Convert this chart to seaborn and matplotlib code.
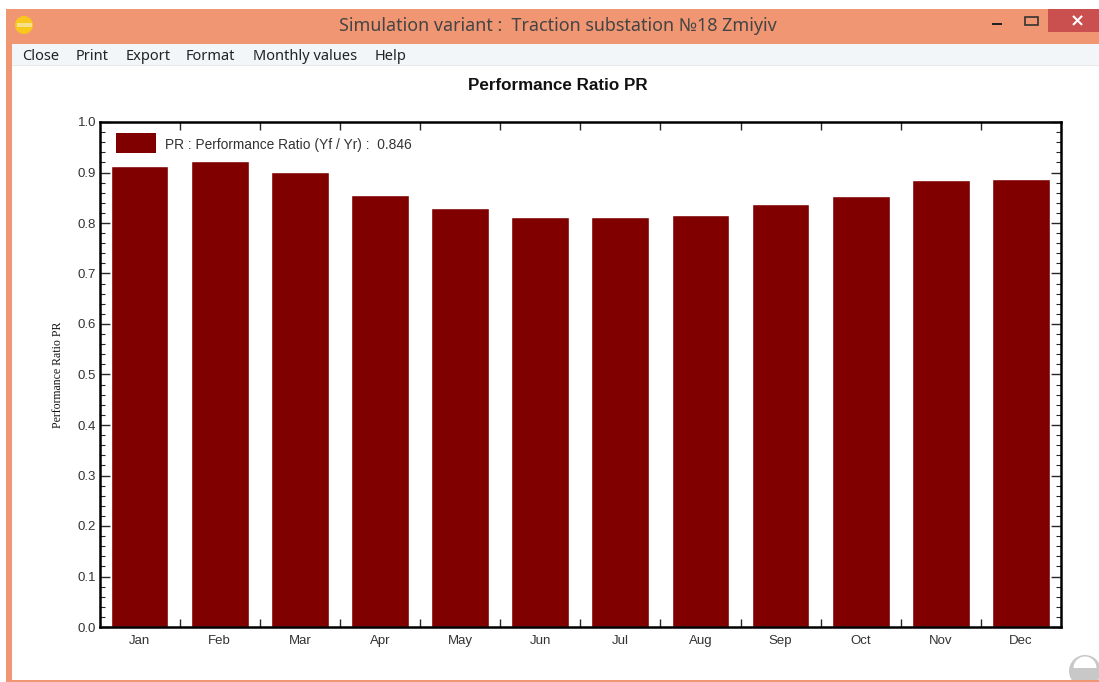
import matplotlib
matplotlib.use('Agg')
import matplotlib.pyplot as plt
from matplotlib.patches import Rectangle, Circle, Patch, Wedge
from matplotlib.ticker import MultipleLocator
from matplotlib.transforms import Affine2D
import pandas as pd
import seaborn as sns

W, H = 1099, 682

months = ['Jan', 'Feb', 'Mar', 'Apr', 'May', 'Jun', 'Jul', 'Aug', 'Sep', 'Oct', 'Nov', 'Dec']
pr_values = [0.913, 0.922, 0.901, 0.855, 0.830, 0.812, 0.812, 0.816, 0.838, 0.853, 0.885, 0.887]
menu_labels = ['Close', 'Print', 'Export', 'Format', 'Monthly values', 'Help']
menu_x = [22, 76, 126, 186, 253, 375]

BAR = '#800000'
SALMON = '#F09673'

# Picture pixels, y going down, for the window decorations
PX = Affine2D().scale(1, -1).translate(0, H)


def fx(x):
    return x / W


def fy(y):
    return 1 - y / H


def box(fig, x0, y0, x1, y1, color, z=0):
    """Rectangle given in picture pixels."""
    fig.add_artist(Rectangle((x0, y0), x1 - x0, y1 - y0, transform=PX, color=color, lw=0, zorder=z))


def draw_window(fig):
    # Title bar, borders and menu strip
    box(fig, 6, 9, W, 44, SALMON)
    box(fig, 6, 44, 12, 682, SALMON)
    box(fig, 12, 44, W, 65, '#F3F6F9')
    box(fig, 12, 65, W, 66, '#E6E8EA')
    box(fig, 1048, 9, W, 32, '#C9504F')

    # Window icon
    fig.add_artist(Circle((24, 25), 9, transform=PX, color='#F8C81E', lw=0, zorder=1))
    box(fig, 17, 23, 32, 27, '#F6E08A', 2)

    # Window buttons
    box(fig, 992, 23, 1002, 25, '#222222')
    fig.add_artist(Rectangle((1025, 17), 13, 8, transform=PX, fill=False, ec='#333333', lw=1.2))
    fig.text(fx(1077), fy(21), '\u00d7', color='white', ha='center', va='center',
             fontsize=13, fontweight='bold', family='DejaVu Sans')

    fig.text(fx(557.5), fy(26), 'Simulation variant :  Traction substation \u211618 Zmiyiv',
             ha='center', va='center', fontsize=12.9, color='#444444', family='Noto Sans')
    for label, x in zip(menu_labels, menu_x):
        fig.text(fx(x), fy(56), label, ha='left', va='center', fontsize=10.5,
                 color='#222222', family='Noto Sans')

    # Busy indicator in the lower right corner
    fig.add_artist(Circle((1085, 671), 16, transform=PX, color='#C8C8C8', lw=0, zorder=2))
    fig.add_artist(Wedge((1085, 668), 11.5, 180, 360, transform=PX, color='white', lw=0, zorder=3))
    box(fig, 6, 680, W, 682, SALMON, 4)


def plot_performance_ratio(fig):
    ax = fig.add_axes([fx(99.5), fy(627), (1061 - 99.5) / W, (627 - 122) / H])
    ax.patch.set_alpha(0)
    df = pd.DataFrame({'month': months, 'pr': pr_values})

    sns.barplot(data=df, x='month', y='pr', color=BAR, saturation=1, width=0.72, ax=ax, zorder=3)

    ax.set_xlim(-0.5, 11.5)
    ax.set_ylim(0, 1)
    ax.set_xlabel('')
    ax.set_ylabel('Performance Ratio PR', family='Liberation Serif', fontsize=8.5,
                  color='#111111', labelpad=0)
    ax.yaxis.set_label_coords((64 - 99.5) / (1061 - 99.5), 0.50)

    ax.yaxis.set_major_locator(MultipleLocator(0.1))
    ax.yaxis.set_minor_locator(MultipleLocator(0.02))
    ax.tick_params(axis='y', which='major', direction='in', length=7, width=1, left=True,
                   right=True, labelsize=9.5, labelcolor='#333333', pad=2.5)
    ax.tick_params(axis='y', which='minor', direction='in', length=3.6, width=0.8, left=True, right=True)
    for label in ax.get_yticklabels():
        label.set_family('Liberation Sans')

    # Month names centred under the bars, tick marks between them
    ax.set_xticks([i + 0.5 for i in range(11)])
    ax.set_xticklabels([])
    ax.set_xticks(range(12), minor=True)
    ax.set_xticklabels(months, minor=True, family='Liberation Sans', fontsize=9.5, color='#333333')
    ax.tick_params(axis='x', which='major', direction='in', length=5.8, width=1, top=True, bottom=True)
    ax.tick_params(axis='x', which='minor', length=0, pad=6)

    for spine in ax.spines.values():
        spine.set_visible(True)
        spine.set_linewidth(1.8)
        spine.set_color('black')
        spine.set_zorder(5)

    legend = ax.legend(handles=[Patch(color=BAR, lw=0, label='PR : Performance Ratio (Yf / Yr) :  0.846')],
                       loc='upper left', bbox_to_anchor=(0.0172, 0.9785), borderaxespad=0, borderpad=0,
                       frameon=False, handlelength=2.88, handleheight=1.9, handletextpad=0.65,
                       prop={'family': 'Liberation Sans', 'size': 9.9}, labelcolor='#333333')
    legend.get_texts()[0].set_y(-2)

    fig.text(fx(558), fy(85), 'Performance Ratio PR', ha='center', va='center',
             fontsize=12.25, fontweight='bold', family='Liberation Sans', color='#111111')


def main():
    sns.set_theme(style='white')
    fig = plt.figure(figsize=(W / 100, H / 100), dpi=100, facecolor='white')
    draw_window(fig)
    plot_performance_ratio(fig)
    fig.savefig('out.png', dpi=100)


if __name__ == "__main__":
    main()
